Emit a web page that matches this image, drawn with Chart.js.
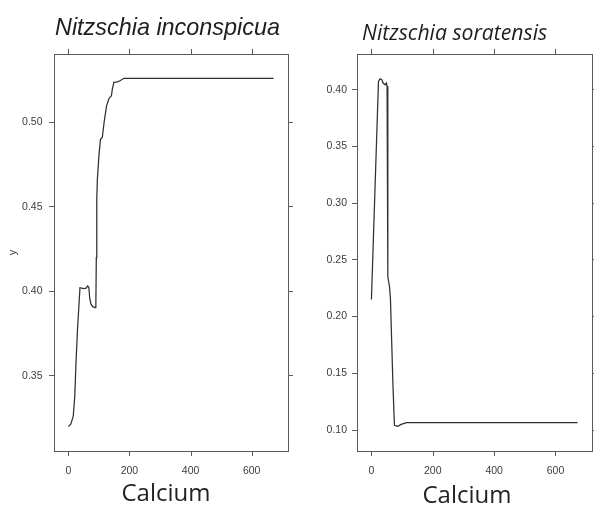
<!DOCTYPE html>
<html>
<head>
<meta charset="utf-8">
<script src="https://cdn.jsdelivr.net/npm/chart.js@4.4.1/dist/chart.umd.min.js"></script>
<style>
  html, body { margin: 0; padding: 0; background: #fff; width: 594px; height: 505px; overflow: hidden; }
  .panel { position: absolute; top: 0; }
  #panelA { left: 0; }
  #panelB { left: 300px; }
</style>
</head>
<body>
<div class="panel" id="panelA"><canvas id="chartA" width="300" height="505"></canvas></div>
<div class="panel" id="panelB"><canvas id="chartB" width="294" height="505"></canvas></div>
<script>
// Partial response of two diatom taxa along the calcium gradient
const xLabel = 'Calcium';
const titleA = 'Nitzschia inconspicua';
const titleB = 'Nitzschia soratensis';
const yTitleA = 'y';

const xTicks = [0, 200, 400, 600];
const yTicksA = [0.35, 0.40, 0.45, 0.50];
const yTicksB = [0.10, 0.15, 0.20, 0.25, 0.30, 0.35, 0.40];

const calciumA = [0, 8, 16, 21, 25, 30, 34, 38, 50, 58, 63, 67, 70, 74, 80, 88, 90, 91.5, 93, 95, 100, 105, 111, 117, 125, 133, 141, 144, 149, 160, 169, 182, 672];
const responseA = [0.3200, 0.3215, 0.3262, 0.3380, 0.3578, 0.3776, 0.3900, 0.4022, 0.4017, 0.4020, 0.4032, 0.4025, 0.3960, 0.3925, 0.3910, 0.3904, 0.3910, 0.4200, 0.4546, 0.4664, 0.4802, 0.4900, 0.4911, 0.5000, 0.5098, 0.5142, 0.5158, 0.5197, 0.5237, 0.5240, 0.5247, 0.5261, 0.5261];

const calciumB = [0, 23, 28, 34, 38, 45, 49, 51, 53.5, 59, 62, 70, 75, 86, 97, 114, 672];
const responseB = [0.2150, 0.4073, 0.4097, 0.4088, 0.4059, 0.4044, 0.4059, 0.4030, 0.2351, 0.2263, 0.2160, 0.1410, 0.1041, 0.1032, 0.1050, 0.1065, 0.1065];

const FRAME = '#5a5a5a';
const TICK_TEXT = '#3c3c3c';
const LINE = '#303030';
const TICK_LEN = 5;
const tickFont = { family: '"Liberation Sans", Arial, sans-serif', size: 10.5 };

// Free-floating captions (panel title and x label) in canvas coordinates
const captionPlugin = {
  id: 'captions',
  afterDraw(chart, args, opts) {
    const ctx = chart.ctx;
    ctx.save();
    ctx.textAlign = 'left';
    ctx.textBaseline = 'alphabetic';
    for (const c of opts.items || []) {
      ctx.font = c.font;
      ctx.fillStyle = c.color;
      ctx.fillText(c.text, c.x, c.y);
    }
    ctx.restore();
  }
};

// Outward tick marks along the top and bottom edges of the box
const edgeTickPlugin = {
  id: 'edgeTicks',
  afterDraw(chart) {
    const ctx = chart.ctx;
    const area = chart.chartArea;
    ctx.save();
    ctx.strokeStyle = FRAME;
    ctx.lineWidth = 1;
    ctx.beginPath();
    for (const id of ['x', 'x2']) {
      const scale = chart.scales[id];
      const top = id === 'x2';
      for (const t of scale.ticks) {
        const px = Math.round(scale.getPixelForValue(t.value)) + 0.5;
        const y0 = top ? area.top : area.bottom;
        const y1 = top ? area.top - TICK_LEN : area.bottom + TICK_LEN;
        ctx.moveTo(px, y0);
        ctx.lineTo(px, y1);
      }
    }
    ctx.stroke();
    ctx.restore();
  }
};

function yGrid() {
  return { display: true, drawOnChartArea: false, drawTicks: true, tickLength: TICK_LEN, color: FRAME, lineWidth: 1 };
}
function frameBorder() {
  return { display: true, color: FRAME, width: 1 };
}
function setTicks(values) {
  return (scale) => { scale.ticks = values.map(v => ({ value: v })); };
}
// mirror axes (top / right) carry tick marks only, their labels are left blank
const blankTicks = { display: true, autoSkip: false, color: 'rgba(0,0,0,0)', callback: () => '' };

function buildChart(canvasId, xs, ys, cfg) {
  const points = xs.map((x, i) => ({ x: x, y: ys[i] }));
  return new Chart(document.getElementById(canvasId), {
    type: 'line',
    data: {
      datasets: [{
        data: points,
        borderColor: LINE,
        borderWidth: 1.25,
        pointRadius: 0,
        fill: false,
        tension: 0,
        xAxisID: 'x',
        yAxisID: 'y'
      }]
    },
    options: {
      responsive: false,
      animation: false,
      layout: { padding: 0 },
      plugins: {
        legend: { display: false },
        tooltip: { enabled: false },
        captions: { items: cfg.captions }
      },
      scales: {
        x: {
          type: 'linear', position: 'bottom', min: cfg.xMin, max: cfg.xMax,
          afterBuildTicks: setTicks(xTicks),
          afterFit: (s) => { s.height = 54; },
          grid: { display: false }, border: frameBorder(),
          ticks: { font: tickFont, color: TICK_TEXT, padding: 6, maxRotation: 0, autoSkip: false,
                   callback: (v) => String(v) }
        },
        x2: {
          type: 'linear', position: 'top', min: cfg.xMin, max: cfg.xMax,
          afterBuildTicks: setTicks(xTicks),
          afterFit: (s) => { s.height = 54; },
          grid: { display: false }, border: frameBorder(),
          ticks: blankTicks
        },
        y: {
          type: 'linear', position: 'left', min: cfg.yMin, max: cfg.yMax,
          afterBuildTicks: setTicks(cfg.yTicks),
          afterFit: (s) => { s.width = cfg.leftWidth; },
          grid: yGrid(), border: frameBorder(),
          ticks: { font: tickFont, color: TICK_TEXT, padding: cfg.yPad, autoSkip: false,
                   callback: (v) => Number(v).toFixed(2) },
          title: {
            display: !!cfg.yTitle, text: cfg.yTitle || '',
            font: { family: '"Liberation Sans", Arial, sans-serif', size: 11 },
            color: TICK_TEXT, padding: { top: 6.4, bottom: 0 }
          }
        },
        y2: {
          type: 'linear', position: 'right', min: cfg.yMin, max: cfg.yMax,
          afterBuildTicks: setTicks(cfg.yTicks),
          afterFit: (s) => { s.width = cfg.rightWidth; },
          grid: yGrid(), border: frameBorder(),
          ticks: blankTicks
        }
      }
    },
    plugins: [edgeTickPlugin, captionPlugin]
  });
}

buildChart('chartA', calciumA, responseA, {
  xMin: -47, xMax: 719, yMin: 0.3056, yMax: 0.5405,
  yTicks: yTicksA, yTitle: yTitleA, leftWidth: 54, rightWidth: 12, yPad: 6.5,
  captions: [
    { text: titleA, x: 55, y: 35, font: 'italic 23.4px "Liberation Sans", Arial, sans-serif', color: '#1e1e1e' },
    { text: xLabel, x: 121.5, y: 501, font: '24px "Open Sans", sans-serif', color: '#222' }
  ]
});

buildChart('chartB', calciumB, responseB, {
  xMin: -47, xMax: 719, yMin: 0.0815, yMax: 0.4315,
  yTicks: yTicksB, yTitle: null, leftWidth: 57, rightWidth: 2, yPad: 5,
  captions: [
    { text: titleB, x: 62, y: 40, font: 'italic 21.2px "Open Sans", sans-serif', color: '#1e1e1e' },
    { text: xLabel, x: 122.5, y: 503, font: '24px "Open Sans", sans-serif', color: '#222' }
  ]
});
</script>
</body>
</html>
